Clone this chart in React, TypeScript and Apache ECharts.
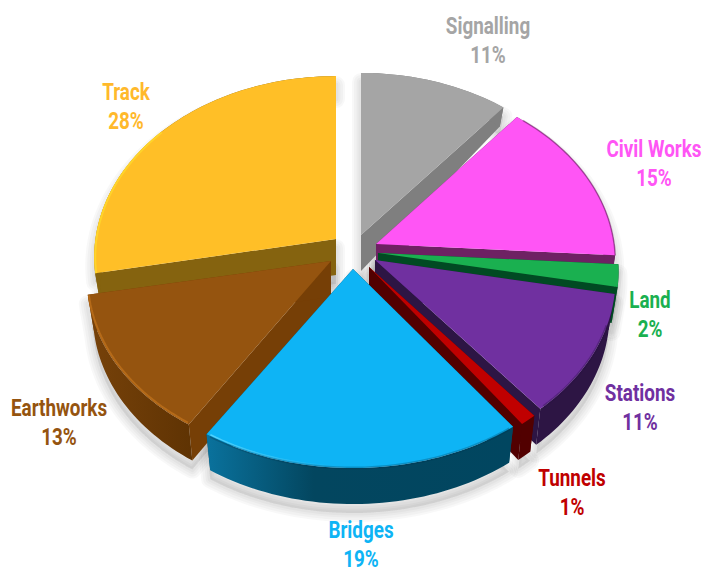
import React, { useEffect, useRef } from "react";
import * as echarts from "echarts";

const CATEGORIES = ["Signalling", "Civil Works", "Land", "Stations", "Tunnels", "Bridges", "Earthworks", "Track"];
const VALUES = [11, 15, 2, 11, 1, 19, 13, 28];
const TOP_COLORS = ["#A5A5A5", "#FF55F5", "#1AB050", "#7030A0", "#C00000", "#0EB4F5", "#95540F", "#FFBF27"];
const WALL_COLORS = ["#7F7F7F", "#6E2163", "#014A23", "#2D1544", "#520000", "#014660", "#6E3A06", "#85630F"];
const LABEL_COLORS = ["#A5A5A5", "#FF55F5", "#1AB050", "#7030A0", "#C00000", "#0EB4F5", "#95540F", "#FFB92B"];

// back-to-front drawing order of the slices
const PAINT_ORDER = [0, 7, 1, 2, 3, 6, 4, 5];
// the point of each exploded slice, px
const APEX = [[361, 235], [376, 244], [378, 253], [375, 260], [369, 267], [353, 269], [331, 261], [336, 239]];
const RIM_SCALE_X = [0.99, 0.98, 0.985, 0.985, 0.985, 1.03, 1.0, 0.99];
const RIM_SCALE_Y = [0.985, 0.98, 0.985, 0.985, 0.985, 0.99, 0.98, 0.99];
const LABEL_AT = [[488, 26], [654, 149], [650, 300], [640, 393], [572, 478], [361, 530], [59, 408], [126, 92]];

const RX = 243, RY = 181, PERSP = 0.1, LINE = 28.5;

const ranges = (() => {
  const total = VALUES.reduce((a, b) => a + b, 0);
  let acc = 0;
  return VALUES.map((v) => {
    const s = (acc / total) * 360;
    acc += v;
    return [s, (acc / total) * 360];
  });
})();

function top(i: number, deg: number) {
  const t = (deg * Math.PI) / 180;
  const u = Math.sin(t), v = Math.cos(t), w = 1 + PERSP * v;
  return [APEX[i][0] + (RX * RIM_SCALE_X[i] * u) / w, APEX[i][1] - (RY * RIM_SCALE_Y[i] * v) / w];
}
function depth(v: number) {
  return v > 0 ? 36 - 22 * v : 36;
}
function low(i: number, deg: number) {
  const p = top(i, deg);
  const v = Math.cos((deg * Math.PI) / 180);
  return [APEX[i][0] + (p[0] - APEX[i][0]) * 0.975, p[1] + depth(v)];
}
function arc(i: number, fn: (i: number, d: number) => number[], a = ranges[i][0], b = ranges[i][1]) {
  const n = Math.max(2, Math.ceil(Math.abs(b - a) / 1.5));
  const out: number[][] = [];
  for (let k = 0; k <= n; k++) out.push(fn(i, a + ((b - a) * k) / n));
  return out;
}
const apexLow = (i: number) => [APEX[i][0], APEX[i][1] + 36];

function renderSlice(_: any, api: any) {
  const i = api.value(0);
  const [s, e] = ranges[i];
  const children: any[] = [];
  const poly = (points: number[][], fill: any) => children.push({ type: "polygon", shape: { points }, style: { fill } });
  const line = (points: number[][], stroke: any, lineWidth: number) =>
    children.push({ type: "polyline", shape: { points }, style: { stroke, lineWidth, fill: null, lineJoin: "round" } });

  // cut walls
  const cutFill = i === 6 ? "#763F06" : WALL_COLORS[i];
  poly([APEX[i], top(i, s), low(i, s), apexLow(i)], cutFill);
  poly([APEX[i], top(i, e), low(i, e), apexLow(i)], cutFill);
  // outer wall
  let wallFill: any = WALL_COLORS[i];
  if (i === 5)
    wallFill = new echarts.graphic.LinearGradient(0, 0, 1, 0, [
      { offset: 0, color: "#0A729D" },
      { offset: 0.35, color: "#03465F" },
      { offset: 1, color: "#014660" },
    ]);
  if (i === 6)
    wallFill = new echarts.graphic.LinearGradient(0, 0, 1, 0, [
      { offset: 0, color: "#77420A" },
      { offset: 1, color: "#5F3303" },
    ]);
  poly([...arc(i, top), ...arc(i, low).reverse()], wallFill);
  // top face
  poly([APEX[i], ...arc(i, top)], TOP_COLORS[i]);

  // rim bevels
  if (i === 5) {
    line(arc(i, top, s + 1, e - 1), "rgba(0,50,75,0.28)", 3);
    line(
      arc(i, top, e - 1, e - 30).map((p) => [p[0], p[1] - 1.5]),
      new echarts.graphic.LinearGradient(0, 0, 1, 0, [
        { offset: 0, color: "#4FD3FF" },
        { offset: 1, color: "rgba(79,211,255,0)" },
      ]),
      1.5
    );
  }
  if (i === 6) line(arc(i, top, s + 0.5, e - 0.5).map((p) => [p[0] + 1, p[1] - 1]), "#B56A18", 2);
  if (i === 3) line(arc(i, top, s + 10, e - 1), "rgba(40,15,70,0.35)", 3);
  if (i === 1) line(arc(i, top, s + 2, e), "rgba(110,30,100,0.55)", 1.5);
  if (i === 7) line(arc(i, top, s, s + 50).map((p) => [p[0] + 1, p[1]]), "#FFD42A", 2);
  return { type: "group", children };
}

// soft shadow built from stacked translucent outlines
const SHADOW_WIDTHS = [18, 14, 9, 5];
function renderShadow(_: any, api: any) {
  const i = api.value(0);
  const points = [APEX[i], ...arc(i, top), ...arc(i, low).reverse(), apexLow(i)].map((p) => [p[0] + 0, p[1] + 9]);
  return {
    type: "group",
    children: SHADOW_WIDTHS.map((w) => ({
      type: "polygon",
      shape: { points },
      style: { fill: "rgba(0,0,0,0.02)", stroke: "rgba(0,0,0,0.028)", lineWidth: w, lineJoin: "round" },
    })),
  };
}

function renderLabel(_: any, api: any) {
  const i = api.value(0);
  const [x, y] = LABEL_AT[i];
  const text = (t: string, yy: number) => ({
    type: "text",
    x,
    y: yy,
    scaleX: 0.82,
    style: {
      text: t,
      fill: LABEL_COLORS[i],
      font: '700 23px Roboto, "Open Sans", sans-serif',
      textAlign: "center",
      textVerticalAlign: "middle",
      verticalAlign: "middle",
    },
  });
  return { type: "group", children: [text(CATEGORIES[i], y), text(`${VALUES[i]}%`, y + LINE)] };
}

export default function App() {
  const ref = useRef<HTMLDivElement>(null);
  useEffect(() => {
    const chart = echarts.init(ref.current!, undefined, { renderer: "svg" });
    const data = PAINT_ORDER.map((i) => [i, VALUES[i]]);
    chart.setOption({
      animation: false,
      backgroundColor: "#FFFFFF",
      series: [
        { type: "custom", coordinateSystem: "none", silent: true, z: 1, renderItem: renderShadow, data },
        { type: "custom", coordinateSystem: "none", silent: true, z: 2, renderItem: renderSlice, data },
        { type: "custom", coordinateSystem: "none", silent: true, z: 3, renderItem: renderLabel, data },
      ],
    });
    return () => chart.dispose();
  }, []);
  return <div ref={ref} style={{ position: "absolute", left: 0, top: 0, width: 704, height: 572 }} />;
}
